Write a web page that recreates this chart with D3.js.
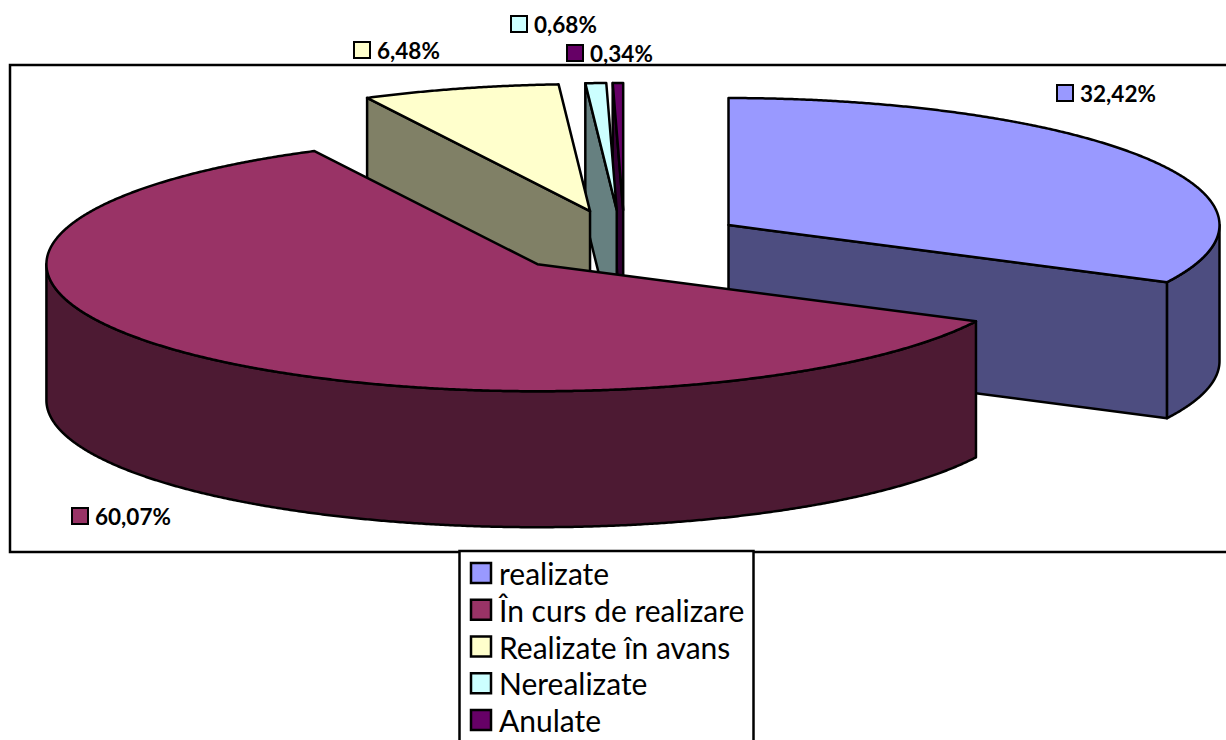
<!DOCTYPE html>
<html>
<head>
<meta charset="utf-8">
<script src="https://d3js.org/d3.v7.min.js"></script>
<style>
  html, body { margin: 0; padding: 0; background: #fff; overflow: hidden; }
  text { font-family: Lato, "Open Sans", sans-serif; fill: #000; }
</style>
</head>
<body>
<div id="chart"></div>
<script>
// chart values
var categories = ["realizate", "În curs de realizare", "Realizate în avans", "Nerealizate", "Anulate"];
var values = [32.42, 60.07, 6.48, 0.68, 0.34];

// slice colours: top surface and shaded side
var topColors = ["#9999ff", "#993366", "#ffffcc", "#ccffff", "#660066"];
var sideColors = ["#4d4d80", "#4d1a33", "#808066", "#668080", "#330033"];

// where each data label sits, same order as categories
var labelX = [1057, 72, 354, 511, 567];
var labelY = [85, 508, 42, 16, 45];

var svgWidth = 1226;
var svgHeight = 740;

var pieCenter = { x: 624, y: 241.7 };
var radiusX = 491;
var radiusY = 127;
var depth = 136;
var explode = 0.25;
// the narrow slices sit a little off the pure explode position
var nudgeX = [0, 0, -1.5, -2, 0.5];

var svg = d3.select("#chart")
  .append("svg")
  .attr("width", svgWidth)
  .attr("height", svgHeight);

// plot frame runs off the right side of the picture
svg.append("rect")
  .attr("x", 10)
  .attr("y", 65)
  .attr("width", 1240)
  .attr("height", 487)
  .attr("fill", "#fff")
  .attr("stroke", "#000")
  .attr("stroke-width", 2.5);

// pie angles, clockwise from 12 o'clock
var pie = d3.pie().sort(null).value(d => d)
  .startAngle(0)
  .endAngle(2 * Math.PI);
var slices = pie(values);

// unit circle -> flattened ellipse
var xScale = d3.scaleLinear().domain([-1, 1]).range([-radiusX, radiusX]);
var yScale = d3.scaleLinear().domain([-1, 1]).range([-radiusY, radiusY]);

var line = d3.line().x(d => d[0]).y(d => d[1]);

function apex(s) {
  var mid = (s.startAngle + s.endAngle) / 2;
  return [pieCenter.x + xScale(explode * Math.sin(mid)) + nudgeX[s.index], pieCenter.y - yScale(explode * Math.cos(mid))];
}

function rim(s, angle, drop) {
  var c = apex(s);
  return [c[0] + xScale(Math.sin(angle)), c[1] - yScale(Math.cos(angle)) + drop];
}

function rimPoints(s, from, to, drop) {
  var n = Math.max(2, Math.ceil((to - from) / 0.005));
  return d3.range(n + 1).map(i => rim(s, from + (to - from) * i / n, drop));
}

function addShape(points, fill) {
  svg.append("path")
    .attr("d", line(points) + "Z")
    .attr("fill", fill)
    .attr("stroke", "#000")
    .attr("stroke-width", 2.5)
    .attr("stroke-linejoin", "round");
}

function drawSlice(i) {
  var s = slices[i];
  var c = apex(s);
  var a = s.startAngle;
  var b = s.endAngle;

  // cut faces that turn towards the viewer
  if (Math.sin(a) < -1e-6) {
    var p = rim(s, a, 0);
    addShape([c, p, [p[0], p[1] + depth], [c[0], c[1] + depth]], sideColors[i]);
  }
  if (Math.sin(b) > 1e-6) {
    var q = rim(s, b, 0);
    addShape([c, q, [q[0], q[1] + depth], [c[0], c[1] + depth]], sideColors[i]);
  }

  // outer wall, only the front half of the ellipse
  var from = Math.max(a, Math.PI / 2);
  var to = Math.min(b, 3 * Math.PI / 2);
  if (to > from) {
    addShape(rimPoints(s, from, to, 0).concat(rimPoints(s, from, to, depth).reverse()), sideColors[i]);
  }

  // top surface
  addShape([c].concat(rimPoints(s, a, b, 0)), topColors[i]);
}

// back to front
[4, 3, 2, 0, 1].forEach(drawSlice);

// data labels
var comma = d3.formatLocale({ decimal: ",", thousands: ".", grouping: [3], currency: ["", ""] }).format(".2f");

values.forEach(function(v, i) {
  svg.append("rect")
    .attr("x", labelX[i])
    .attr("y", labelY[i])
    .attr("width", 16)
    .attr("height", 16)
    .attr("fill", topColors[i])
    .attr("stroke", "#000")
    .attr("stroke-width", 2);

  svg.append("text")
    .attr("x", labelX[i] + 23)
    .attr("y", labelY[i] + 17)
    .attr("font-size", 22.5)
    .attr("font-weight", 700)
    .text(comma(v) + "%");
});

// legend box, cut by the bottom of the picture
svg.append("rect")
  .attr("x", 459.5)
  .attr("y", 551)
  .attr("width", 294)
  .attr("height", 220)
  .attr("fill", "#fff")
  .attr("stroke", "#000")
  .attr("stroke-width", 2.5);

var legendY = d3.scalePoint().domain(categories).range([563, 710]);

var legend = svg.selectAll(".legend")
  .data(categories)
  .enter()
  .append("g")
  .attr("class", "legend")
  .attr("transform", d => `translate(471, ${legendY(d)})`);

legend.append("rect")
  .attr("width", 20)
  .attr("height", 20)
  .attr("fill", (d, i) => topColors[i])
  .attr("stroke", "#000")
  .attr("stroke-width", 2.5);

legend.append("text")
  .attr("x", 28)
  .attr("y", 22)
  .attr("font-size", 30)
  .text(d => d);
</script>
</body>
</html>
